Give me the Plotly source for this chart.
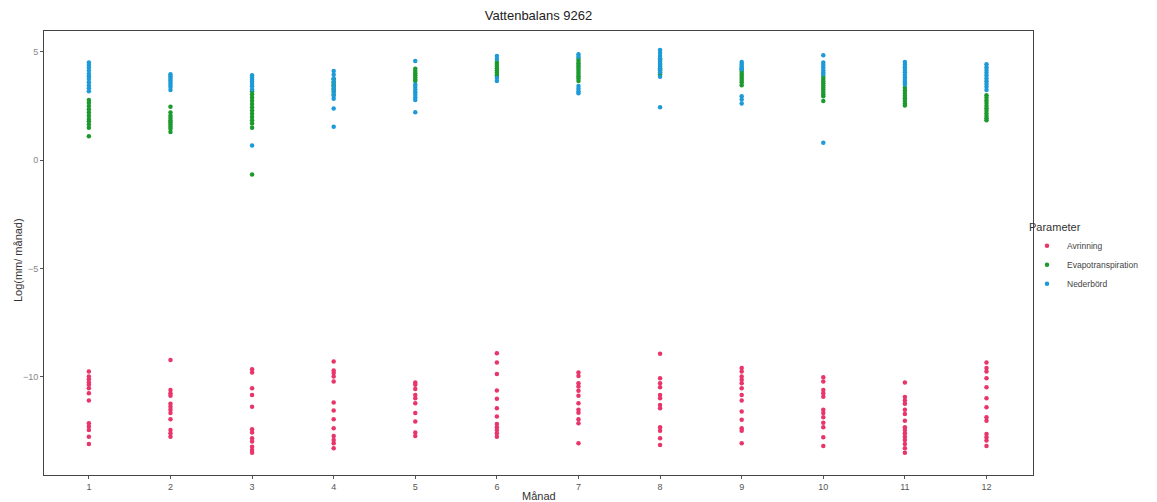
import plotly.graph_objects as go

months = list(range(1, 13))

avrinning = [
    [-9.77, -10.0, -10.12, -10.28, -10.38, -10.54, -10.77, -11.11, -12.16, -12.31, -12.47, -12.78, -13.12],
    [-9.23, -10.62, -10.77, -10.89, -11.26, -11.39, -11.54, -11.69, -11.97, -12.47, -12.62, -12.78],
    [-9.66, -9.81, -10.54, -10.85, -11.39, -12.44, -12.59, -12.85, -13.0, -13.24, -13.39, -13.52],
    [-9.31, -9.72, -9.84, -10.0, -10.23, -11.2, -11.57, -11.97, -12.39, -12.75, -12.93, -13.08, -13.31],
    [-10.28, -10.38, -10.58, -10.85, -11.0, -11.23, -11.69, -12.08, -12.59, -12.75],
    [-8.92, -9.35, -9.88, -10.65, -11.03, -11.46, -11.85, -12.19, -12.34, -12.47, -12.62, -12.78],
    [-9.81, -9.97, -10.31, -10.46, -10.66, -10.89, -11.23, -11.54, -11.67, -11.97, -12.16, -13.08],
    [-8.95, -10.08, -10.31, -10.49, -10.85, -11.0, -11.31, -11.46, -12.34, -12.5, -12.85, -13.16],
    [-9.61, -9.77, -10.0, -10.15, -10.31, -10.54, -10.85, -11.11, -11.62, -12.0, -12.39, -12.5, -13.08],
    [-10.03, -10.23, -10.62, -10.77, -10.93, -11.54, -11.69, -11.88, -12.13, -12.34, -12.81, -13.21],
    [-10.28, -10.95, -11.11, -11.26, -11.54, -11.73, -12.04, -12.34, -12.47, -12.62, -12.78, -12.93, -13.12, -13.31, -13.52],
    [-9.35, -9.61, -9.77, -10.08, -10.49, -11.0, -11.42, -11.88, -12.04, -12.65, -12.81, -12.96, -13.21],
]

evapotranspiration = [
    [2.78, 2.65, 2.5, 2.35, 2.2, 2.05, 1.9, 1.8, 1.65, 1.5, 1.11],
    [2.47, 2.2, 2.05, 1.95, 1.85, 1.75, 1.65, 1.55, 1.45, 1.3],
    [3.19, 3.05, 2.9, 2.75, 2.6, 2.45, 2.3, 2.15, 2.0, 1.85, 1.7, 1.5, -0.66],
    [3.74, 3.6, 3.5, 3.4, 3.3, 3.2, 3.04],
    [4.23, 4.12, 4.02, 3.92, 3.82, 3.72, 3.66],
    [4.54, 4.45, 4.35, 4.25, 4.15, 4.05, 3.95, 3.89],
    [4.69, 4.58, 4.48, 4.38, 4.28, 4.18, 4.08, 3.98, 3.88, 3.78, 3.66],
    [4.66, 4.55, 4.45, 4.35, 4.25, 4.15, 4.05, 3.97],
    [4.2, 4.1, 4.0, 3.9, 3.8, 3.7, 3.6, 3.46],
    [3.86, 3.75, 3.65, 3.55, 3.45, 3.35, 3.25, 3.15, 3.05, 2.95, 2.73],
    [3.35, 3.22, 3.1, 2.98, 2.86, 2.74, 2.62, 2.53],
    [3.0, 2.88, 2.76, 2.64, 2.52, 2.4, 2.28, 2.16, 2.04, 1.94, 1.85],
]

nederbord = [
    [4.51, 4.4, 4.28, 4.15, 4.0, 3.88, 3.75, 3.6, 3.45, 3.32, 3.19],
    [3.97, 3.88, 3.78, 3.68, 3.58, 3.48, 3.38, 3.24],
    [3.92, 3.82, 3.72, 3.62, 3.52, 3.42, 3.27, 0.68],
    [4.12, 3.95, 3.78, 3.62, 3.45, 3.3, 3.15, 2.98, 2.84, 2.39, 1.55],
    [4.58, 3.5, 3.38, 3.26, 3.14, 3.02, 2.9, 2.78, 2.22],
    [4.81, 4.68, 3.8, 3.66],
    [4.89, 4.78, 3.43, 3.3, 3.18, 3.09],
    [5.09, 4.95, 4.82, 4.7, 4.58, 4.45, 4.32, 4.2, 4.08, 3.86, 2.45],
    [4.54, 4.45, 4.36, 4.28, 4.2, 2.96, 2.8, 2.62],
    [4.85, 4.51, 4.4, 4.28, 4.16, 4.05, 3.97, 0.8],
    [4.54, 4.42, 4.3, 4.18, 4.06, 3.94, 3.82, 3.7, 3.6, 3.5],
    [4.43, 4.3, 4.17, 4.04, 3.91, 3.78, 3.65, 3.52, 3.39, 3.24],
]

series_names = ["Avrinning", "Evapotranspiration", "Nederbörd"]
series_data = [avrinning, evapotranspiration, nederbord]
series_colors = ["#e8356a", "#1d9a2e", "#1d9ad8"]

fig = go.Figure()
for name, data, color in zip(series_names, series_data, series_colors):
    xs, ys = [], []
    for m, vals in zip(months, data):
        xs.extend([m] * len(vals))
        ys.extend(vals)
    fig.add_trace(go.Scatter(
        x=xs, y=ys, mode="markers", name=name,
        marker=dict(color=color, size=4.5, line=dict(width=0)),
    ))

# the page body has an 8px offset, so the figure is 8px smaller and margins shifted
W, H = 1149, 494
ML, MR, MT, MB = 36, 124, 23, 27
plot_w = W - ML - MR
plot_h = H - MT - MB

fig.update_layout(
    width=W, height=H,
    margin=dict(l=ML, r=MR, t=MT, b=MB, autoexpand=False),
    paper_bgcolor="white", plot_bgcolor="white",
    font=dict(family="Liberation Sans, Arial, sans-serif", color="#333333"),
    title=dict(text="Vattenbalans 9262", x=(ML + plot_w / 2) / W, xanchor="center",
               y=1 - 7 / H, yanchor="middle", font=dict(size=13, color="#222222")),
    legend=dict(
        title=dict(text="Parameter", font=dict(size=11, color="#333333")),
        x=1 - 6 / plot_w, xanchor="left", y=0.581, yanchor="top",
        font=dict(size=8.5, color="#444444"),
        itemsizing="trace", tracegroupgap=0, itemwidth=30,
        bgcolor="rgba(0,0,0,0)",
    ),
    annotations=[
        dict(text="Månad", xref="paper", yref="paper", x=0.5, y=-21 / plot_h,
             xanchor="center", yanchor="middle", showarrow=False,
             font=dict(size=11, color="#333333")),
        dict(text="Log(mm/ månad)", xref="paper", yref="paper", x=-26 / plot_w, y=0.484,
             xanchor="center", yanchor="middle", showarrow=False, textangle=-90,
             font=dict(size=11, color="#333333")),
    ],
)
fig.update_xaxes(
    range=[0.45, 12.57], tickmode="array", tickvals=months,
    ticktext=[str(m) for m in months], automargin=False,
    showgrid=False, zeroline=False,
    showline=True, linecolor="#444444", linewidth=1, mirror=True,
    ticks="outside", ticklen=3, tickcolor="#555555",
    tickfont=dict(size=9, color="#555555"),
)
fig.update_yaxes(
    range=[-14.55, 5.97], tickvals=[-10, -5, 0, 5], automargin=False,
    showgrid=False, zeroline=False,
    showline=True, linecolor="#444444", linewidth=1, mirror=True,
    ticks="outside", ticklen=3, tickcolor="#555555",
    tickfont=dict(size=9, color="#888888"),
)

fig.write_html("out.html")
